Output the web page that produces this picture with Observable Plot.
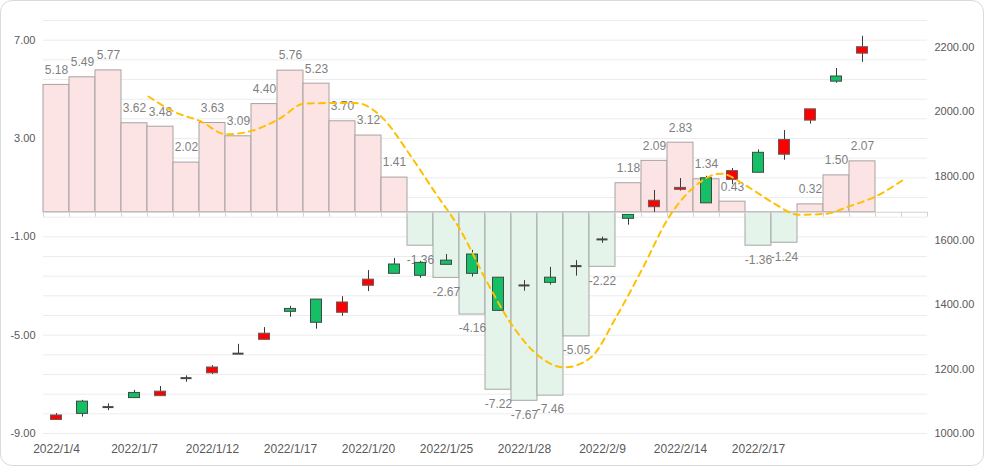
<!DOCTYPE html>
<html><head><meta charset="utf-8">
<script src="https://cdn.jsdelivr.net/npm/d3@7"></script>
<script src="https://cdn.jsdelivr.net/npm/@observablehq/plot@0.6"></script>
<style>
body{margin:0;background:#fff;font-family:"Liberation Sans",Arial,sans-serif;}
#card{position:absolute;left:0;top:0;width:984px;height:466px;box-sizing:border-box;border:1.5px solid #dadada;border-radius:12px;}
#wrap{position:absolute;left:0;top:0;width:984px;height:467px;}
#wrap svg{position:absolute;left:0;top:0;background:transparent;}
</style></head><body>
<div id="card"></div><div id="wrap"></div>
<script>
// ---- data ----
const dates = ["2022/1/4","2022/1/5","2022/1/6","2022/1/7","2022/1/10","2022/1/11","2022/1/12","2022/1/13","2022/1/14","2022/1/17","2022/1/18","2022/1/19","2022/1/20","2022/1/21","2022/1/24","2022/1/25","2022/1/26","2022/1/27","2022/1/28","2022/2/7","2022/2/8","2022/2/9","2022/2/10","2022/2/11","2022/2/14","2022/2/15","2022/2/16","2022/2/17","2022/2/18","2022/2/21","2022/2/22","2022/2/23","2022/2/24","2022/2/25"];
const barValues = [5.18,5.49,5.77,3.62,3.48,2.02,3.63,3.09,4.40,5.76,5.23,3.70,3.12,1.41,-1.36,-2.67,-4.16,-7.22,-7.67,-7.46,-5.05,-2.22,1.18,2.09,2.83,1.34,0.43,-1.36,-1.24,0.32,1.50,2.07,null,null];
const lineStart = 4;
const lineValues = [4.71,4.08,3.70,3.17,3.32,3.78,4.42,4.44,4.44,3.84,2.42,0.84,-0.73,-2.80,-4.62,-5.84,-6.31,-5.92,-4.24,-2.29,-0.23,1.04,1.57,1.07,0.40,-0.10,-0.07,0.26,0.66,1.30];
const opens  = [1042,1099,1082,1126,1116,1172,1187,1248,1291,1387,1416,1375,1459,1525,1530,1537,1556,1484,1460,1484,1520,1603,1679,1703,1757,1793,1788,1872,1866,1972,2109,2180,null,null];
const closes = [1056,1061,1082,1110,1130,1172,1205,1248,1310,1378,1344,1407,1478,1496,1490,1524,1496,1381,1460,1468,1520,1603,1667,1723,1763,1715,1815,1810,1912,2007,2093,2200,null,null];
const highs  = [1062,1103,1092,1134,1146,1179,1211,1277,1329,1395,1416,1425,1506,1544,1535,1556,1569,1484,1475,1516,1537,1610,1679,1755,1792,1799,1823,1881,1941,2007,2134,2234,null,null];
const lows   = [1042,1051,1071,1110,1116,1159,1183,1247,1291,1361,1324,1364,1441,1496,1482,1524,1486,1381,1442,1461,1489,1591,1647,1687,1753,1715,1773,1810,1849,1961,2088,2153,null,null];
const xTickLabels = ["2022/1/4","2022/1/7","2022/1/12","2022/1/17","2022/1/20","2022/1/25","2022/1/28","2022/2/9","2022/2/14","2022/2/17"];
const leftTicks = [7,3,-1,-5,-9];
const rightTicks = [1000,1200,1400,1600,1800,2000,2200];
const leftDomain = [-9, 7.8];
const rightDomain = [1000, 2283];
const gridStep = 0.8;

// ---- layout ----
const W = 984, H = 467;
const common = {width: W, height: H, marginTop: 20, marginRight: 57, marginBottom: 34, marginLeft: 43,
  style: {background: "transparent", fontFamily: "'Liberation Sans', Arial, sans-serif", fontSize: "12px", color: "#595959", overflow: "visible"}};
const xBand = {type: "band", domain: dates, padding: 0};

const barData = dates.map((d, i) => ({date: d, value: barValues[i]})).filter(d => d.value != null);
const pos = barData.filter(d => d.value > 0), neg = barData.filter(d => d.value < 0);
const gridValues = d3.range(0, Math.round((leftDomain[1] - leftDomain[0]) / gridStep) + 1).map(i => leftDomain[0] + i * gridStep);

const p1 = Plot.plot({
  ...common,
  x: xBand,
  y: {domain: leftDomain},
  marks: [
    Plot.ruleY(gridValues, {stroke: "#ececec"}),
    Plot.barY(pos, {x: "date", y: "value", fill: "#fde4e4", stroke: "#a8a2a2", strokeWidth: 1}),
    Plot.barY(neg, {x: "date", y: "value", fill: "#e4f4ea", stroke: "#a3a8a5", strokeWidth: 1}),
    Plot.ruleY([0], {stroke: "#d2d2d2"}),
    Plot.ruleX(dates, {x: d => d, y1: 0, y2: -0.2, dx: -13, stroke: "#d2d2d2"}),
    Plot.ruleX(dates.slice(-1), {x: d => d, y1: 0, y2: -0.2, dx: 13, stroke: "#d2d2d2"}),
    Plot.text(pos, {x: "date", y: "value", text: d => d.value.toFixed(2), dy: -15, fill: "#7f7f7f", fontSize: 12}),
    Plot.text(neg, {x: "date", y: "value", text: d => d.value.toFixed(2), dy: 14, fill: "#7f7f7f", fontSize: 12}),
    Plot.axisY({ticks: leftTicks, tickFormat: d => d.toFixed(2), tickSize: 0, tickPadding: 8, fontSize: 11, label: null}),
    Plot.axisX({ticks: xTickLabels, tickSize: 0, tickPadding: 11, fontSize: 12, label: null})
  ]
});

const candles = dates.map((d, i) => ({date: d, open: opens[i], close: closes[i], high: highs[i], low: lows[i]})).filter(d => d.open != null);
const up = candles.filter(d => d.close > d.open), down = candles.filter(d => d.close < d.open), doji = candles.filter(d => d.close === d.open);

const p2 = Plot.plot({
  ...common,
  x: {...xBand, axis: null},
  y: {domain: rightDomain},
  marks: [
    Plot.ruleX(candles, {x: "date", y1: "low", y2: "high", stroke: "#3a3a3a", strokeWidth: 1}),
    Plot.barY(up, {x: "date", y1: "open", y2: "close", fill: "#ff0000", stroke: "#6a5a5a", strokeWidth: 1, insetLeft: 7.5, insetRight: 7.5}),
    Plot.barY(down, {x: "date", y1: "open", y2: "close", fill: "#14bf66", stroke: "#3f4a44", strokeWidth: 1, insetLeft: 7.5, insetRight: 7.5}),
    Plot.tickY(doji, {x: "date", y: "open", stroke: "#444", strokeWidth: 2, insetLeft: 7.5, insetRight: 7.5}),
    Plot.axisY({anchor: "right", ticks: rightTicks, tickFormat: d => d.toFixed(2), tickSize: 0, tickPadding: 7, fontSize: 11, label: null})
  ]
});

const lineData = lineValues.map((v, i) => ({date: dates[i + lineStart], value: v}));
const p3 = Plot.plot({
  ...common,
  x: {...xBand, axis: null},
  y: {domain: leftDomain, axis: null},
  marks: [
    Plot.line(lineData, {x: "date", y: "value", stroke: "#ffc000", strokeWidth: 2, strokeDasharray: "6,5", curve: "monotone-x", dx: -12})
  ]
});

const wrap = document.getElementById("wrap");
wrap.append(p1, p2, p3);
</script>
</body></html>
